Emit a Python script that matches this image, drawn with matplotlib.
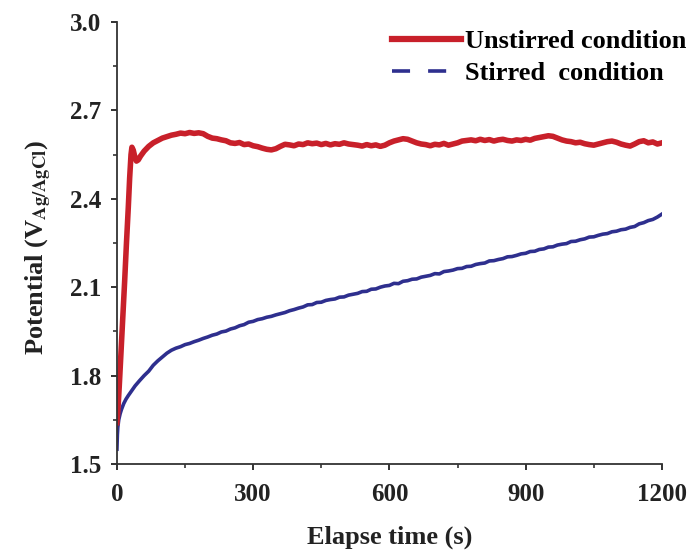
import matplotlib
matplotlib.use("Agg")
import matplotlib.pyplot as plt
from matplotlib.lines import Line2D
from matplotlib.ticker import MultipleLocator, FormatStrFormatter

plt.rcParams["font.family"] = ["Liberation Serif", "DejaVu Serif"]
plt.rcParams["font.weight"] = "bold"
plt.rcParams["mathtext.fontset"] = "stix"

# Unstirred condition (red)
red_t = [0, 2, 5, 9, 13, 17, 21, 25, 28, 31, 33, 36, 39, 43, 47, 52, 60, 70, 80, 90,
         100, 110, 120, 130, 140, 150, 160, 170, 180, 190,
         200, 210, 220, 230, 240, 250, 260, 270, 280, 290,
         300, 310, 320, 330, 340, 350, 360, 370, 380, 390,
         400, 410, 420, 430, 440, 450, 460, 470, 480, 490,
         500, 510, 520, 530, 540, 550, 560, 570, 580, 590,
         600, 610, 620, 630, 640, 650, 660, 670, 680, 690,
         700, 710, 720, 730, 740, 750, 760, 770, 780, 790,
         800, 810, 820, 830, 840, 850, 860, 870, 880, 890,
         900, 910, 920, 930, 940, 950, 960, 970, 980, 990,
         1000, 1010, 1020, 1030, 1040, 1050, 1060, 1070, 1080, 1090,
         1100, 1110, 1120, 1130, 1140, 1150, 1160, 1170, 1180, 1190, 1200]
red_v = [1.64, 1.68, 1.76, 1.88, 2.00, 2.12, 2.25, 2.37, 2.47, 2.55, 2.575, 2.565, 2.545, 2.528, 2.532, 2.545, 2.562, 2.578, 2.590, 2.598,
         2.606, 2.611, 2.616, 2.619, 2.623, 2.621, 2.625, 2.622, 2.624, 2.621,
         2.612, 2.606, 2.604, 2.600, 2.597, 2.590, 2.588, 2.591, 2.584, 2.586,
         2.580, 2.577, 2.572, 2.568, 2.566, 2.570, 2.578, 2.585, 2.583, 2.580,
         2.586, 2.584, 2.590, 2.587, 2.589, 2.584, 2.588, 2.583, 2.587, 2.585,
         2.590, 2.586, 2.584, 2.582, 2.579, 2.584, 2.580, 2.583, 2.578, 2.582,
         2.590, 2.596, 2.600, 2.604, 2.602, 2.596, 2.590, 2.586, 2.584, 2.580,
         2.585, 2.583, 2.588, 2.582, 2.586, 2.590, 2.596, 2.598, 2.600, 2.597,
         2.602, 2.598, 2.601, 2.596, 2.600, 2.602, 2.598, 2.596, 2.600, 2.598,
         2.602, 2.599, 2.605, 2.608, 2.611, 2.614, 2.612, 2.606, 2.600, 2.596,
         2.594, 2.590, 2.592, 2.587, 2.584, 2.582, 2.586, 2.590, 2.594, 2.596,
         2.592, 2.586, 2.582, 2.579, 2.586, 2.594, 2.597, 2.590, 2.593, 2.586, 2.590]

# Stirred condition (blue)
blue_t = [0, 1, 2, 4, 7, 10, 15, 20, 25, 30, 40, 50, 60, 70, 80, 90,
          100, 110, 120, 130, 140, 150, 160, 170, 180, 190,
          200, 210, 220, 230, 240, 250, 260, 270, 280, 290,
          300, 310, 320, 330, 340, 350, 360, 370, 380, 390,
          400, 410, 420, 430, 440, 450, 460, 470, 480, 490,
          500, 510, 520, 530, 540, 550, 560, 570, 580, 590,
          600, 610, 620, 630, 640, 650, 660, 670, 680, 690,
          700, 710, 720, 730, 740, 750, 760, 770, 780, 790,
          800, 810, 820, 830, 840, 850, 860, 870, 880, 890,
          900, 910, 920, 930, 940, 950, 960, 970, 980, 990,
          1000, 1010, 1020, 1030, 1040, 1050, 1060, 1070, 1080, 1090,
          1100, 1110, 1120, 1130, 1140, 1150, 1160, 1170, 1180, 1190, 1200]
blue_v = [1.55, 1.60, 1.625, 1.65, 1.67, 1.685, 1.705, 1.72, 1.732, 1.743, 1.765, 1.783, 1.80, 1.815, 1.835, 1.85,
          1.863, 1.876, 1.886, 1.893, 1.898, 1.905, 1.909, 1.915, 1.920, 1.926,
          1.931, 1.937, 1.941, 1.948, 1.951, 1.958, 1.962, 1.969, 1.973, 1.981,
          1.984, 1.990, 1.993, 1.998, 2.001, 2.006, 2.010, 2.014, 2.020, 2.024,
          2.029, 2.033, 2.040, 2.041, 2.048, 2.049, 2.055, 2.058, 2.060, 2.066,
          2.067, 2.073, 2.076, 2.079, 2.085, 2.086, 2.093, 2.094, 2.100, 2.104,
          2.106, 2.113, 2.112, 2.120, 2.122, 2.127, 2.128, 2.134, 2.137, 2.140,
          2.146, 2.145, 2.153, 2.155, 2.158, 2.163, 2.164, 2.170, 2.171, 2.177,
          2.180, 2.182, 2.189, 2.190, 2.194, 2.197, 2.203, 2.204, 2.208, 2.213,
          2.215, 2.221, 2.222, 2.228, 2.230, 2.236, 2.237, 2.243, 2.246, 2.248,
          2.255, 2.256, 2.261, 2.264, 2.270, 2.271, 2.276, 2.280, 2.282, 2.288,
          2.290, 2.295, 2.297, 2.303, 2.306, 2.315, 2.319, 2.326, 2.330, 2.338, 2.348]

red = "#c8202a"
blue = "#2e2f8e"

fig = plt.figure(figsize=(6.96, 5.51), dpi=100)
ax = fig.add_axes([0.168, 0.158, 0.783, 0.802])

ax.plot(blue_t, blue_v, color=blue, linewidth=2.6)
ax.plot(red_t, red_v, color=red, linewidth=4.0)

ax.set_xlim(0, 1200)
ax.set_ylim(1.5, 3.0)
ax.xaxis.set_major_locator(MultipleLocator(300))
ax.xaxis.set_minor_locator(MultipleLocator(150))
ax.yaxis.set_major_locator(MultipleLocator(0.3))
ax.yaxis.set_minor_locator(MultipleLocator(0.15))
ax.yaxis.set_major_formatter(FormatStrFormatter("%.1f"))

for s in ["top", "right"]:
    ax.spines[s].set_visible(False)
for s in ["left", "bottom"]:
    ax.spines[s].set_linewidth(1.3)
    ax.spines[s].set_color("#333333")

ax.tick_params(which="major", direction="out", length=4.5, width=1.3,
               labelsize=18, colors="#222222")
ax.tick_params(axis="x", which="major", pad=9)
ax.tick_params(axis="y", which="major", pad=6.5)
ax.tick_params(which="minor", direction="out", length=3, width=1.2, colors="#333333")
for lbl in ax.get_xticklabels() + ax.get_yticklabels():
    lbl.set_fontweight("bold")

ax.set_xlabel("Elapse time (s)", fontsize=19, fontweight="bold", color="#222222")
ax.set_ylabel(r"Potential (V$_{\mathbf{Ag/AgCl}}$)", fontsize=19, fontweight="bold", color="#222222")
ax.xaxis.set_label_coords(0.5, -0.139)
ax.yaxis.set_label_coords(-0.115, 0.49)

handles = [Line2D([], [], color=red, linewidth=4.5),
           Line2D([], [], color=blue, linewidth=2.6, linestyle=(0, (5, 5)))]
fig.legend(handles, ["Unstirred condition", "Stirred  condition"], loc="upper left",
           bbox_to_anchor=(392 / 696, 1 - 30 / 551), bbox_transform=fig.transFigure,
           frameon=False, handlelength=2.6, handletextpad=0.15, borderpad=0, borderaxespad=0,
           labelspacing=0.32, prop={"family": "Liberation Serif", "weight": "bold", "size": 19})

fig.savefig("out.png", dpi=100)
